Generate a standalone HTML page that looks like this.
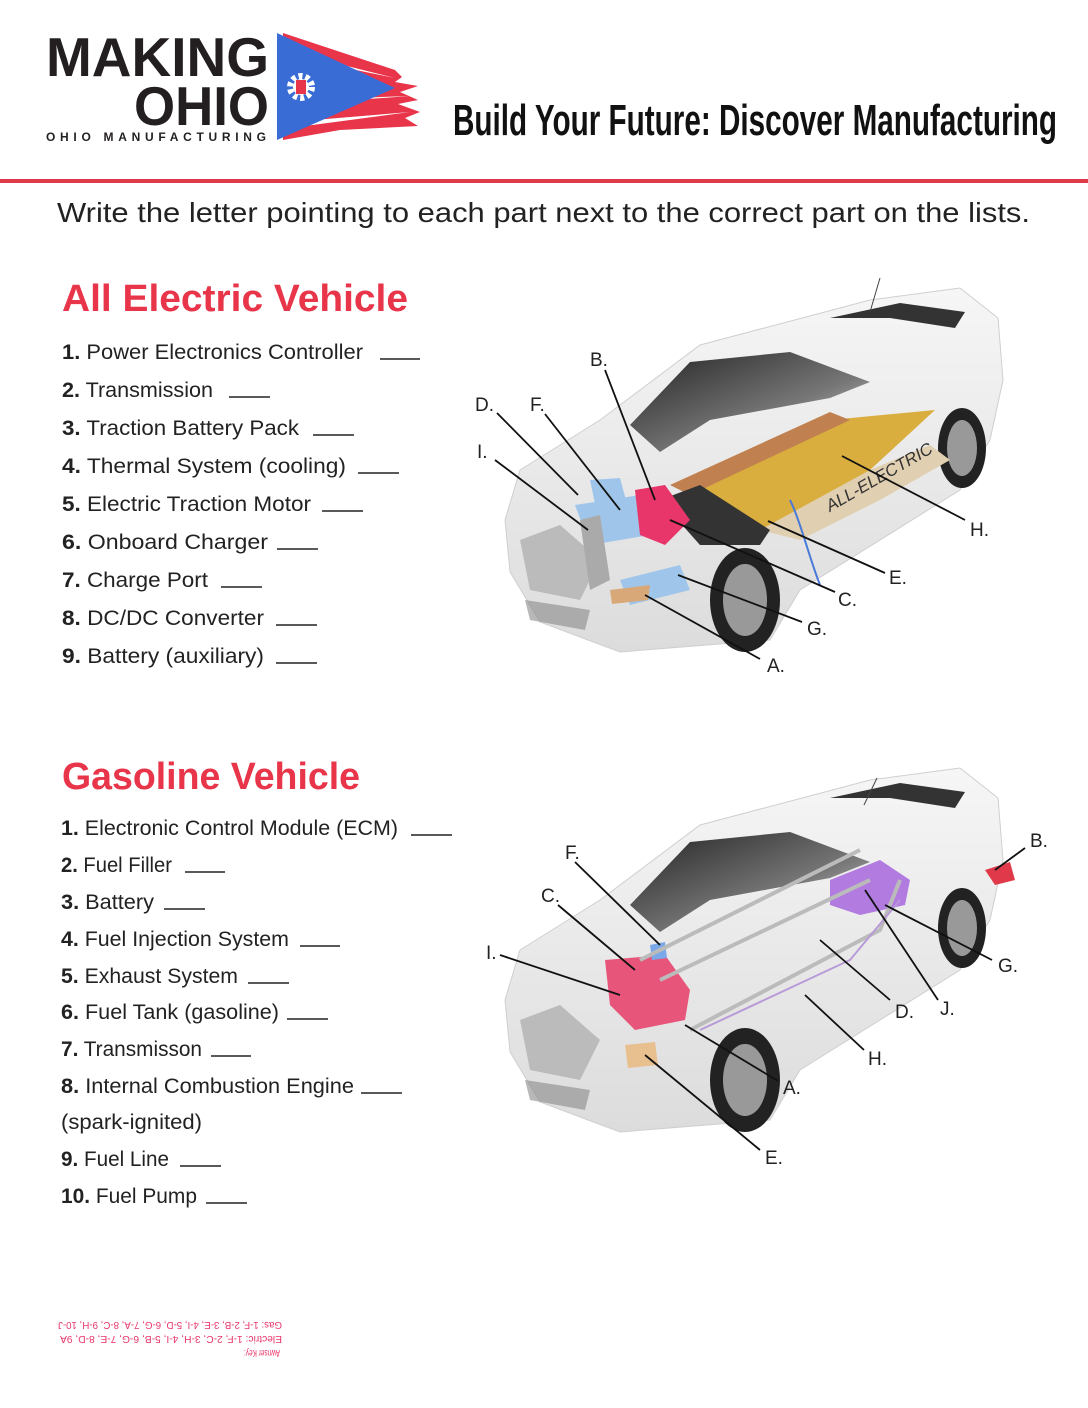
<!DOCTYPE html>
<html><head><meta charset="utf-8"><style>
html,body{margin:0;padding:0;background:#fff}
svg{display:block}
text{font-family:"Liberation Sans",sans-serif}
</style></head><body>
<svg width="1088" height="1408" viewBox="0 0 1088 1408" xmlns="http://www.w3.org/2000/svg">
<defs>
<linearGradient id="ws" x1="0" y1="0" x2="1" y2="1">
<stop offset="0" stop-color="#222"/><stop offset="0.6" stop-color="#777"/><stop offset="1" stop-color="#ddd"/>
</linearGradient>
<linearGradient id="body" x1="0" y1="0" x2="0" y2="1">
<stop offset="0" stop-color="#f6f6f6"/><stop offset="1" stop-color="#dcdcdc"/>
</linearGradient>
<g id="car">
<path d="M520,470 L600,420 L700,345 L870,300 L960,288 L998,318 L1003,380 L990,440 L960,490 L800,590 L770,640 L620,652 L540,622 L510,572 L505,520 Z" fill="url(#body)" stroke="#cfcfcf"/>
<path d="M630,425 L690,362 L790,352 L870,382 L830,398 L710,420 L660,452 Z" fill="url(#ws)"/>
<path d="M830,318 L900,303 L965,312 L955,328 L890,318 Z" fill="#333"/>
<ellipse cx="745" cy="600" rx="35" ry="52" fill="#222"/>
<ellipse cx="745" cy="600" rx="22" ry="36" fill="#999"/>
<ellipse cx="962" cy="448" rx="24" ry="40" fill="#222"/>
<ellipse cx="962" cy="448" rx="15" ry="28" fill="#999"/>
<path d="M520,540 L560,525 L600,560 L580,600 L530,590 Z" fill="#bbb"/>
<path d="M525,600 L590,610 L585,630 L530,620 Z" fill="#888" opacity="0.6"/>
</g>
</defs>

<!-- Logo -->
<text x="46" y="76" font-size="55" font-weight="bold" fill="#231f20" textLength="223" lengthAdjust="spacingAndGlyphs" style="font-family:'Liberation Sans Narrow','Liberation Sans',sans-serif">MAKING</text>
<text x="134" y="125" font-size="55" font-weight="bold" fill="#231f20" textLength="135" lengthAdjust="spacingAndGlyphs" style="font-family:'Liberation Sans Narrow','Liberation Sans',sans-serif">OHIO</text>
<text x="46" y="141" font-size="12" font-weight="bold" fill="#231f20" textLength="220" lengthAdjust="spacing">OHIO MANUFACTURING</text>
<path d="M283,33 L395,70 L402,77 L395,82 L418,86 L400,92 L418,100 L398,104 L420,112 L405,118 L418,126 L340,130 L283,140 Z" fill="#e8354a"/>
<path d="M283,50 L395,78 L283,55 Z" fill="#fff"/>
<path d="M300,100 L410,96 L300,104Z M290,122 L410,112 L290,128Z" fill="#fff"/>
<path d="M277,33 L395,88 L277,140 Z" fill="#3a6cd6"/>
<circle cx="301" cy="87" r="11" fill="none" stroke="#fff" stroke-width="6" stroke-dasharray="4 3"/>
<circle cx="301" cy="87" r="8" fill="#fff"/>
<path d="M296,80 L306,80 L306,94 L296,94Z" fill="#e8354a"/>

<text x="453" y="135" font-size="44" font-weight="bold" fill="#111" textLength="604" lengthAdjust="spacingAndGlyphs" style="font-family:'Liberation Sans Narrow','Liberation Sans',sans-serif">Build Your Future: Discover Manufacturing</text>
<rect x="0" y="179" width="1088" height="4" fill="#e03a4a"/>

<text x="57" y="222" font-size="28" fill="#222" textLength="973" lengthAdjust="spacingAndGlyphs">Write the letter pointing to each part next to the correct part on the lists.</text>

<text x="62" y="311" font-size="38" font-weight="bold" fill="#e8354a" textLength="346" lengthAdjust="spacingAndGlyphs">All Electric Vehicle</text>

<g font-size="21" fill="#222" stroke="#222" stroke-width="1.5">
<text x="62" y="359" stroke="none" textLength="301" lengthAdjust="spacingAndGlyphs"><tspan font-weight="bold">1.</tspan> Power Electronics Controller</text><line x1="380" y1="359" x2="420" y2="359"/>
<text x="62" y="397" stroke="none" textLength="151" lengthAdjust="spacingAndGlyphs"><tspan font-weight="bold">2.</tspan> Transmission</text><line x1="229" y1="397" x2="270" y2="397"/>
<text x="62" y="435" stroke="none" textLength="237" lengthAdjust="spacingAndGlyphs"><tspan font-weight="bold">3.</tspan> Traction Battery Pack</text><line x1="313" y1="435" x2="354" y2="435"/>
<text x="62" y="473" stroke="none" textLength="284" lengthAdjust="spacingAndGlyphs"><tspan font-weight="bold">4.</tspan> Thermal System (cooling)</text><line x1="358" y1="473" x2="399" y2="473"/>
<text x="62" y="511" stroke="none" textLength="249" lengthAdjust="spacingAndGlyphs"><tspan font-weight="bold">5.</tspan> Electric Traction Motor</text><line x1="322" y1="511" x2="363" y2="511"/>
<text x="62" y="549" stroke="none" textLength="206" lengthAdjust="spacingAndGlyphs"><tspan font-weight="bold">6.</tspan> Onboard Charger</text><line x1="277" y1="549" x2="318" y2="549"/>
<text x="62" y="587" stroke="none" textLength="146" lengthAdjust="spacingAndGlyphs"><tspan font-weight="bold">7.</tspan> Charge Port</text><line x1="221" y1="587" x2="262" y2="587"/>
<text x="62" y="625" stroke="none" textLength="202" lengthAdjust="spacingAndGlyphs"><tspan font-weight="bold">8.</tspan> DC/DC Converter</text><line x1="276" y1="625" x2="317" y2="625"/>
<text x="62" y="663" stroke="none" textLength="202" lengthAdjust="spacingAndGlyphs"><tspan font-weight="bold">9.</tspan> Battery (auxiliary)</text><line x1="276" y1="663" x2="317" y2="663"/>
</g>

<text x="62" y="789" font-size="38" font-weight="bold" fill="#e8354a" textLength="298" lengthAdjust="spacingAndGlyphs">Gasoline Vehicle</text>

<g font-size="21" fill="#222" stroke="#222" stroke-width="1.5">
<text x="61" y="835" stroke="none" textLength="337" lengthAdjust="spacingAndGlyphs"><tspan font-weight="bold">1.</tspan> Electronic Control Module (ECM)</text><line x1="411" y1="835" x2="452" y2="835"/>
<text x="61" y="872" stroke="none" textLength="111" lengthAdjust="spacingAndGlyphs"><tspan font-weight="bold">2.</tspan> Fuel Filler</text><line x1="185" y1="872" x2="225" y2="872"/>
<text x="61" y="909" stroke="none" textLength="93" lengthAdjust="spacingAndGlyphs"><tspan font-weight="bold">3.</tspan> Battery</text><line x1="164" y1="909" x2="205" y2="909"/>
<text x="61" y="946" stroke="none" textLength="228" lengthAdjust="spacingAndGlyphs"><tspan font-weight="bold">4.</tspan> Fuel Injection System</text><line x1="300" y1="946" x2="340" y2="946"/>
<text x="61" y="983" stroke="none" textLength="177" lengthAdjust="spacingAndGlyphs"><tspan font-weight="bold">5.</tspan> Exhaust System</text><line x1="248" y1="983" x2="289" y2="983"/>
<text x="61" y="1019" stroke="none" textLength="218" lengthAdjust="spacingAndGlyphs"><tspan font-weight="bold">6.</tspan> Fuel Tank (gasoline)</text><line x1="287" y1="1019" x2="328" y2="1019"/>
<text x="61" y="1056" stroke="none" textLength="141" lengthAdjust="spacingAndGlyphs"><tspan font-weight="bold">7.</tspan> Transmisson</text><line x1="211" y1="1056" x2="251" y2="1056"/>
<text x="61" y="1093" stroke="none" textLength="293" lengthAdjust="spacingAndGlyphs"><tspan font-weight="bold">8.</tspan> Internal Combustion Engine</text><line x1="361" y1="1093" x2="402" y2="1093"/>
<text x="61" y="1129" stroke="none" textLength="141" lengthAdjust="spacingAndGlyphs">(spark-ignited)</text>
<text x="61" y="1166" stroke="none" textLength="108" lengthAdjust="spacingAndGlyphs"><tspan font-weight="bold">9.</tspan> Fuel Line</text><line x1="180" y1="1166" x2="221" y2="1166"/>
<text x="61" y="1203" stroke="none" textLength="136" lengthAdjust="spacingAndGlyphs"><tspan font-weight="bold">10.</tspan> Fuel Pump</text><line x1="206" y1="1203" x2="247" y2="1203"/>
</g>

<!-- Car 1 (electric) -->
<use href="#car"/>
<line x1="880" y1="278" x2="870" y2="312" stroke="#444"/>
<path d="M680,490 L830,420 L935,410 L870,470 L770,530 Z" fill="#d9ae3e"/>
<path d="M670,485 L830,412 L850,420 L690,495Z" fill="#c08050"/>
<path d="M760,530 L870,470 L930,445 L950,460 L880,500 L800,540Z" fill="#e0cfb0"/>
<path d="M660,500 L700,485 L770,530 L760,545 L700,545Z" fill="#333"/>
<path d="M575,505 L640,495 L650,535 L590,545Z" fill="#9fc6ea"/>
<path d="M590,480 L620,478 L630,515 L598,518Z" fill="#9fc6ea"/>
<path d="M635,490 L665,485 L690,520 L665,545 L640,535Z" fill="#e8356a"/>
<path d="M620,580 L680,565 L690,590 L630,605Z" fill="#9fc6ea"/>
<path d="M610,590 L650,585 L648,600 L612,604Z" fill="#d9a878"/>
<path d="M580,520 L600,515 L610,580 L590,590Z" fill="#aaa"/>
<text x="830" y="512" font-size="17" font-style="italic" fill="#333" transform="rotate(-30 830 512)" textLength="120" lengthAdjust="spacingAndGlyphs">ALL-ELECTRIC</text>
<path d="M790,500 C800,520 810,560 820,585" stroke="#4a7ad8" stroke-width="2" fill="none"/>

<g stroke="#111" stroke-width="1.8">
<line x1="605" y1="370" x2="655" y2="500"/>
<line x1="497" y1="413" x2="578" y2="495"/>
<line x1="545" y1="414" x2="620" y2="510"/>
<line x1="495" y1="460" x2="588" y2="530"/>
<line x1="965" y1="520" x2="842" y2="456"/>
<line x1="885" y1="573" x2="768" y2="521"/>
<line x1="835" y1="592" x2="670" y2="520"/>
<line x1="802" y1="622" x2="678" y2="575"/>
<line x1="760" y1="659" x2="645" y2="595"/>
</g>
<g font-size="19" fill="#222">
<text x="590" y="366">B.</text><text x="475" y="411">D.</text><text x="530" y="411">F.</text>
<text x="477" y="458">I.</text><text x="970" y="536">H.</text><text x="889" y="584">E.</text>
<text x="838" y="606">C.</text><text x="807" y="635">G.</text><text x="767" y="672">A.</text>
</g>

<!-- Car 2 (gasoline) -->
<use href="#car" transform="translate(0,480)"/>
<line x1="877" y1="778" x2="864" y2="805" stroke="#444"/>
<path d="M830,880 L880,860 L910,880 L905,905 L860,915 L830,905Z" fill="#b27be0"/>
<path d="M605,960 L665,955 L690,990 L685,1020 L635,1030 L610,1005Z" fill="#e8557a"/>
<path d="M650,945 L665,942 L667,958 L652,960Z" fill="#7aa8e8"/>
<path d="M625,1045 L655,1042 L658,1065 L628,1068Z" fill="#e8c090"/>
<path d="M640,960 L860,850 M660,980 L870,880 M690,1030 L880,930 L900,880" stroke="#bbb" stroke-width="4" fill="none"/>
<path d="M700,1030 L850,960 L900,900" stroke="#b89ad8" stroke-width="2" fill="none"/>
<path d="M985,870 L1010,862 L1015,880 L995,885Z" fill="#e03a4a"/>
<g stroke="#111" stroke-width="1.8">
<line x1="575" y1="862" x2="660" y2="945"/>
<line x1="558" y1="905" x2="635" y2="970"/>
<line x1="500" y1="955" x2="620" y2="995"/>
<line x1="1025" y1="848" x2="995" y2="870"/>
<line x1="992" y1="960" x2="885" y2="905"/>
<line x1="938" y1="1000" x2="865" y2="890"/>
<line x1="890" y1="1000" x2="820" y2="940"/>
<line x1="864" y1="1050" x2="805" y2="995"/>
<line x1="778" y1="1081" x2="685" y2="1025"/>
<line x1="760" y1="1150" x2="645" y2="1055"/>
</g>
<g font-size="19" fill="#222">
<text x="565" y="859">F.</text><text x="541" y="902">C.</text><text x="486" y="959">I.</text>
<text x="1030" y="847">B.</text><text x="998" y="972">G.</text><text x="940" y="1015">J.</text>
<text x="895" y="1018">D.</text><text x="868" y="1065">H.</text><text x="783" y="1094">A.</text>
<text x="765" y="1164">E.</text>
</g>

<!-- Answer key (upside down) -->
<g transform="rotate(180 170 1337)" fill="#e8356a" font-size="10">
<text x="60" y="1324" textLength="36" lengthAdjust="spacingAndGlyphs">Awnser Key:</text>
<text x="58" y="1338" textLength="222" lengthAdjust="spacingAndGlyphs">Electric: 1-F, 2-C, 3-H, 4-I, 5-B, 6-G, 7-E, 8-D, 9A</text>
<text x="58" y="1352" textLength="224" lengthAdjust="spacingAndGlyphs">Gas: 1-F, 2-B, 3-E, 4-I, 5-D, 6-G, 7-A, 8-C, 9-H, 10-J</text>
</g>
</svg>
</body></html>
